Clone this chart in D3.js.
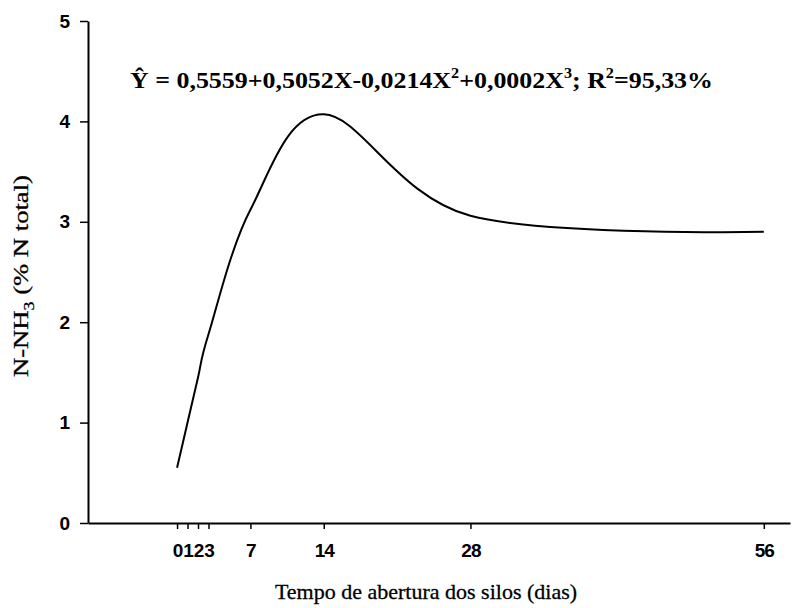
<!DOCTYPE html>
<html>
<head>
<meta charset="utf-8">
<script src="https://cdn.jsdelivr.net/npm/d3@7"></script>
<style>
  body { margin: 0; background: #fff; }
  .tick text { font-family: "Liberation Sans", Arial, sans-serif; font-weight: bold; fill: #000; }
  .serif { font-family: "Liberation Serif", "Times New Roman", serif; fill: #000; }
</style>
</head>
<body>
<script>
// days after silo opening and N-NH3 (% of total N)
var days = [0, 1, 2, 3, 7, 14, 28, 56];
var nnh3 = [0.55, 1.0, 1.45, 1.88, 3.12, 4.07, 3.06, 2.9];
var xTicks = [0, 1, 2, 3, 7, 14, 28, 56];
var yTicks = [0, 1, 2, 3, 4, 5];

var width = 795, height = 608;
var svg = d3.select('body').append('svg').attr('width', width).attr('height', height);

var x = d3.scaleLinear().domain([-8.5, 58.5]).range([88, 790]);
var y = d3.scaleLinear().domain([0, 5]).range([523, 21]);

var xAxis = svg.append('g')
  .attr('transform', 'translate(0,' + y(0) + ')')
  .call(d3.axisBottom(x).tickValues(xTicks).tickSize(6).tickPadding(15).tickSizeOuter(0));
xAxis.select('.domain').attr('stroke-width', 2);
xAxis.selectAll('.tick line').attr('stroke-width', 1.5);
xAxis.selectAll('.tick text').attr('font-size', 19).attr('letter-spacing', '-1px');

var yAxis = svg.append('g')
  .attr('transform', 'translate(' + x(-8.5) + ',0)')
  .call(d3.axisLeft(y).tickValues(yTicks).tickFormat(d3.format('d')).tickSize(8).tickPadding(10).tickSizeOuter(0));
yAxis.select('.domain').attr('stroke-width', 2);
yAxis.selectAll('.tick line').attr('stroke-width', 1.5);
yAxis.selectAll('.tick text').attr('font-size', 19);

var pts = days.map(function(d, i) { return [d, nnh3[i]]; });
var line = d3.line()
  .x(function(d) { return x(d[0]); })
  .y(function(d) { return y(d[1]); })
  .curve(d3.curveCatmullRom.alpha(0));

svg.append('path')
  .datum(pts)
  .attr('d', line)
  .attr('fill', 'none')
  .attr('stroke', '#000')
  .attr('stroke-width', 2);

// equation
var eq = svg.append('text').attr('class', 'serif')
  .attr('x', 130).attr('y', 88)
  .attr('font-size', 24).attr('font-weight', 'bold')
  .attr('textLength', 583).attr('lengthAdjust', 'spacingAndGlyphs');
eq.append('tspan').text('\u0176 = 0,5559+0,5052X-0,0214X');
eq.append('tspan').attr('dy', -10).attr('font-size', 15).text('2');
eq.append('tspan').attr('dy', 10).text('+0,0002X');
eq.append('tspan').attr('dy', -10).attr('font-size', 15).text('3');
eq.append('tspan').attr('dy', 10).text('; R');
eq.append('tspan').attr('dy', -10).attr('font-size', 15).text('2');
eq.append('tspan').attr('dy', 10).text('=95,33%');

// axis titles
svg.append('text').attr('class', 'serif')
  .attr('x', 426).attr('y', 599)
  .attr('text-anchor', 'middle')
  .attr('font-size', 22)
  .attr('stroke', '#000').attr('stroke-width', 0.3)
  .text('Tempo de abertura dos silos (dias)');

var yt = svg.append('text').attr('class', 'serif')
  .attr('transform', 'translate(28,377) rotate(-90)')
  .attr('font-size', 21)
  .attr('stroke', '#000').attr('stroke-width', 0.3)
  .attr('textLength', 202).attr('lengthAdjust', 'spacingAndGlyphs');
yt.append('tspan').text('N-NH');
yt.append('tspan').attr('dy', 6).attr('font-size', 14).text('3');
yt.append('tspan').attr('dy', -6).text(' (% N total)');
</script>
</body>
</html>
